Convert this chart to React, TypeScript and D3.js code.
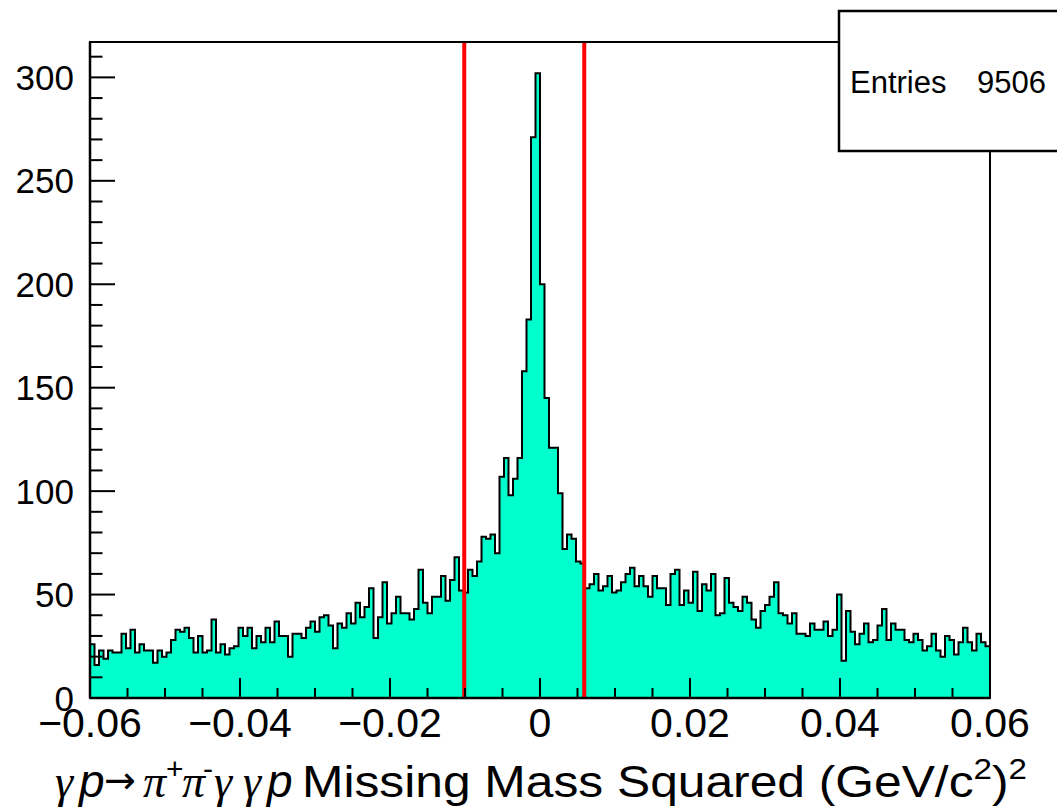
import * as d3 from "d3";

// ── Histogram data (200 bins, -0.06 .. 0.06) ─────────────
const BIN_LO = -0.06;
const BIN_HI = 0.06;
const counts = [
  26, 16, 23, 19, 23, 22, 22, 31, 24, 33, 22, 26, 23, 23, 17, 23, 20, 22, 28, 33,
  32, 34, 29, 22, 30, 22, 23, 38, 22, 26, 21, 24, 25, 34, 30, 34, 24, 30, 27, 34,
  27, 37, 30, 30, 20, 31, 31, 29, 34, 37, 32, 39, 40, 35, 24, 36, 34, 41, 36, 46,
  39, 44, 53, 29, 39, 56, 36, 41, 49, 41, 41, 38, 43, 62, 46, 41, 49, 49, 59, 47,
  57, 68, 52, 51, 62, 59, 66, 78, 77, 79, 70, 107, 116, 98, 106, 116, 158, 183, 271, 302,
  200, 145, 121, 121, 99, 72, 79, 77, 66, 65, 53, 55, 60, 52, 54, 59, 51, 52, 56, 60,
  63, 54, 59, 54, 49, 59, 53, 53, 45, 60, 62, 45, 52, 46, 61, 42, 55, 52, 60, 40,
  41, 58, 46, 44, 42, 49, 46, 38, 34, 42, 45, 49, 56, 41, 40, 36, 41, 31, 31, 30,
  36, 33, 33, 37, 30, 33, 50, 18, 42, 32, 26, 31, 36, 27, 28, 35, 43, 28, 36, 33,
  33, 28, 27, 31, 28, 23, 25, 31, 23, 20, 30, 28, 21, 27, 34, 27, 23, 31, 27, 25,
];
const ENTRIES = 9506;
const cutLines = [-0.0101, 0.0059];

const xTicks = [-0.06, -0.04, -0.02, 0, 0.02, 0.04, 0.06];
const xTickLabels = ["\u22120.06", "\u22120.04", "\u22120.02", "0", "0.02", "0.04", "0.06"];
const yTicks = [0, 50, 100, 150, 200, 250, 300];

// ── Layout ────────────────────────────────────────────────
const W = 1057;
const H = 809;
const X0 = 90;
const X1 = 990;
const Y_TOP = 42;
const Y_BOT = 698;
const Y_MAX = 317.1;
const TITLE_Y = 797;

const SANS = "'Liberation Sans', Arial, Helvetica, sans-serif";
const SERIF = "'Liberation Serif', 'Times New Roman', serif";

const x = d3.scaleLinear().domain([BIN_LO, BIN_HI]).range([X0, X1]);
const y = d3.scaleLinear().domain([0, Y_MAX]).range([Y_BOT, Y_TOP]);

const nBins = counts.length;
const bw = (BIN_HI - BIN_LO) / nBins;
const pts: [number, number][] = counts.map((c, i) => [BIN_LO + i * bw, c]);
pts.push([BIN_HI, counts[nBins - 1]]);

const area = d3.area<[number, number]>()
  .x(d => x(d[0])).y0(Y_BOT).y1(d => y(d[1]))
  .curve(d3.curveStepAfter);
const line = d3.line<[number, number]>()
  .x(d => x(d[0])).y(d => y(d[1]))
  .curve(d3.curveStepAfter);

const xMinor = d3.range(-0.06, 0.06001, 0.005);
const yMinor = d3.range(0, 311, 10);

// reaction prefix of the axis title (TLatex-like pieces)
const prefix = [
  { t: "γ", x: 55, kind: "greek" },
  { t: "p", x: 79, kind: "ital" },
  { t: "→", x: 104, kind: "arrow" },
  { t: "π", x: 143, kind: "greek" },
  { t: "+", x: 166, kind: "sup" },
  { t: "π", x: 182, kind: "greek" },
  { t: "-", x: 203, kind: "sup" },
  { t: "γ", x: 214, kind: "greek" },
  { t: "γ", x: 243, kind: "greek" },
  { t: "p", x: 267, kind: "ital" },
];

function pieceStyle(kind: string) {
  if (kind === "greek") return { fontFamily: SERIF, fontStyle: "italic", fontSize: 46, dy: 0 };
  if (kind === "ital") return { fontFamily: SANS, fontStyle: "italic", fontSize: 46, dy: 0 };
  if (kind === "arrow") return { fontFamily: "'DejaVu Sans', sans-serif", fontStyle: "normal", fontSize: 38, dy: -4 };
  return { fontFamily: SANS, fontStyle: "normal", fontSize: 30, dy: -18 };
}

export default function App() {
  return (
    <svg width={W} height={H} viewBox={`0 0 ${W} ${H}`}
      style={{ position: "absolute", left: 0, top: 0, background: "#fff" }}>
      <rect x={0} y={0} width={W} height={H} fill="#fff" />

      {/* histogram */}
      <path d={area(pts) ?? ""} fill="#00ffcc" />
      <path d={line(pts) ?? ""} fill="none" stroke="#000" strokeWidth={2} />

      {/* cut lines */}
      {cutLines.map(v => (
        <line key={v} x1={x(v)} x2={x(v)} y1={Y_TOP} y2={Y_BOT}
          stroke="#ff0000" strokeWidth={4} />
      ))}

      {/* frame */}
      <rect x={X0} y={Y_TOP} width={X1 - X0} height={Y_BOT - Y_TOP}
        fill="none" stroke="#000" strokeWidth={2} />
      <line x1={X0} x2={X1} y1={Y_BOT} y2={Y_BOT} stroke="#000" strokeWidth={2.5} />
      <line x1={X0} x2={X0} y1={Y_TOP} y2={Y_BOT} stroke="#000" strokeWidth={2.5} />

      {/* x ticks */}
      {xMinor.map((v, i) => {
        const major = i % 4 === 0;
        return (
          <line key={i} x1={x(v)} x2={x(v)} y1={Y_BOT} y2={Y_BOT - (major ? 20 : 10)}
            stroke="#000" strokeWidth={2} />
        );
      })}
      {xTicks.map((v, i) => (
        <text key={v} x={x(v)} y={737} textAnchor="middle"
          fontFamily={SANS} fontSize={41} fill="#000">{xTickLabels[i]}</text>
      ))}

      {/* y ticks */}
      {yMinor.map(v => {
        const major = v % 50 === 0;
        return (
          <line key={v} x1={X0} x2={X0 + (major ? 25 : 12.5)} y1={y(v)} y2={y(v)}
            stroke="#000" strokeWidth={2} />
        );
      })}
      {yTicks.map(v => (
        <text key={v} x={74} y={y(v)} dy="0.36em" textAnchor="end"
          fontFamily={SANS} fontSize={35} fill="#000">{v}</text>
      ))}

      {/* x title */}
      {prefix.map((p, i) => {
        const s = pieceStyle(p.kind);
        return (
          <text key={i} x={p.x} y={TITLE_Y + s.dy}
            fontFamily={s.fontFamily} fontStyle={s.fontStyle}
            fontSize={s.fontSize} fill="#000">{p.t}</text>
        );
      })}
      <text x={302} y={TITLE_Y} textLength={725} lengthAdjust="spacingAndGlyphs"
        fontFamily={SANS} fontSize={45} fill="#000">
        Missing Mass Squared (GeV/c
        <tspan fontSize={30} dy={-18}>2</tspan>
        <tspan dy={18}>)</tspan>
        <tspan fontSize={30} dy={-18}>2</tspan>
      </text>

      {/* stats box */}
      <rect x={839} y={11} width={240} height={140} fill="#fff" stroke="#000" strokeWidth={2.5} />
      <text x={850} y={93} fontFamily={SANS} fontSize={31} fill="#000">Entries</text>
      <text x={1046} y={93} textAnchor="end" fontFamily={SANS} fontSize={31} fill="#000">{ENTRIES}</text>
    </svg>
  );
}
